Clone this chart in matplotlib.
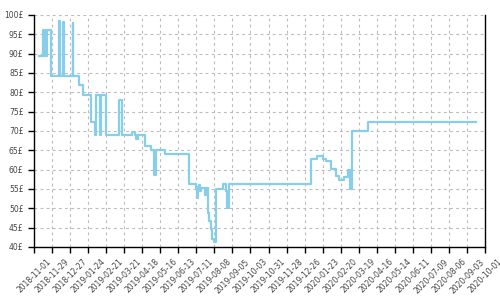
import datetime as dt
import matplotlib
matplotlib.use('Agg')
import matplotlib.pyplot as plt
import matplotlib.dates as mdates
import matplotlib.ticker as mticker

# price history (date, price in £)
dates = ['2018-11-08', '2018-11-15', '2018-11-16', '2018-11-17', '2018-11-18', '2018-11-19',
         '2018-11-20', '2018-11-21', '2018-11-24', '2018-11-28', '2018-12-10', '2018-12-12',
         '2018-12-16', '2018-12-17', '2018-12-31', '2019-01-01', '2019-01-10', '2019-01-16',
         '2019-01-28', '2019-02-03', '2019-02-05', '2019-02-11', '2019-02-13', '2019-02-20',
         '2019-03-13', '2019-03-17', '2019-04-02', '2019-04-06', '2019-04-08', '2019-04-12',
         '2019-04-23', '2019-05-01', '2019-05-07', '2019-05-09', '2019-05-24', '2019-06-30',
         '2019-07-11', '2019-07-12', '2019-07-13', '2019-07-15', '2019-07-16', '2019-07-18',
         '2019-07-24', '2019-07-26', '2019-07-29', '2019-07-31', '2019-08-02', '2019-08-05',
         '2019-08-08', '2019-08-10', '2019-08-22', '2019-08-26', '2019-08-27', '2019-08-31',
         '2020-01-05', '2020-01-15', '2020-01-23', '2020-01-28', '2020-02-05', '2020-02-12',
         '2020-02-18', '2020-02-25', '2020-03-02', '2020-03-04', '2020-03-05', '2020-03-06',
         '2020-03-08', '2020-04-02', '2020-09-17']
prices = [89.5, 96.0, 89.5, 95.5, 89.5, 96.0,
          89.5, 96.0, 96.2, 84.1, 98.4, 84.1,
          98.2, 84.1, 98.0, 84.1, 82.0, 79.2,
          72.2, 69.0, 79.2, 69.0, 79.2, 69.0,
          77.9, 69.0, 69.7, 69.0, 67.9, 69.0,
          66.2, 65.1, 58.7, 65.1, 64.1, 56.3,
          55.2, 52.7, 55.5, 56.0, 54.5, 55.2,
          53.3, 55.2, 48.9, 46.6, 44.6, 42.1,
          41.2, 55.0, 56.3, 54.4, 50.1, 56.3,
          62.8, 63.4, 62.8, 62.1, 60.2, 58.4,
          57.4, 58.0, 59.8, 58.0, 59.8, 55.0,
          70.1, 72.2, 72.2]

x = [dt.datetime.strptime(d, '%Y-%m-%d') for d in dates]
start = dt.datetime(2018, 11, 1)
end = dt.datetime(2020, 10, 1)

fig = plt.figure(figsize=(5, 3), dpi=100)
ax = fig.add_axes([0.068, 0.177, 0.902, 0.773])

ax.plot(x, prices, drawstyle='steps-post', color='#87CEEB', linewidth=1.6)

ax.set_xlim(start, end)
ax.set_ylim(40, 100)

ax.xaxis.set_major_locator(mdates.DayLocator(interval=28))
ticks = [start + dt.timedelta(days=28 * i) for i in range(26)]
ax.set_xticks(ticks)
ax.xaxis.set_major_formatter(mdates.DateFormatter('%Y-%m-%d'))
ax.yaxis.set_major_locator(mticker.MultipleLocator(5))
ax.yaxis.set_major_formatter(mticker.FormatStrFormatter('%d£'))

ax.tick_params(axis='both', labelsize=5.5, labelcolor='#444444', length=4, width=1, color='black')
plt.setp(ax.get_xticklabels(), rotation=45, ha='center')

ax.grid(True, color='#bbbbbb', linestyle=(0, (2.5, 3)), linewidth=0.8)
ax.spines['top'].set_visible(False)
for s in ['left', 'bottom', 'right']:
    ax.spines[s].set_linewidth(1)

fig.savefig('out.png', dpi=100)
